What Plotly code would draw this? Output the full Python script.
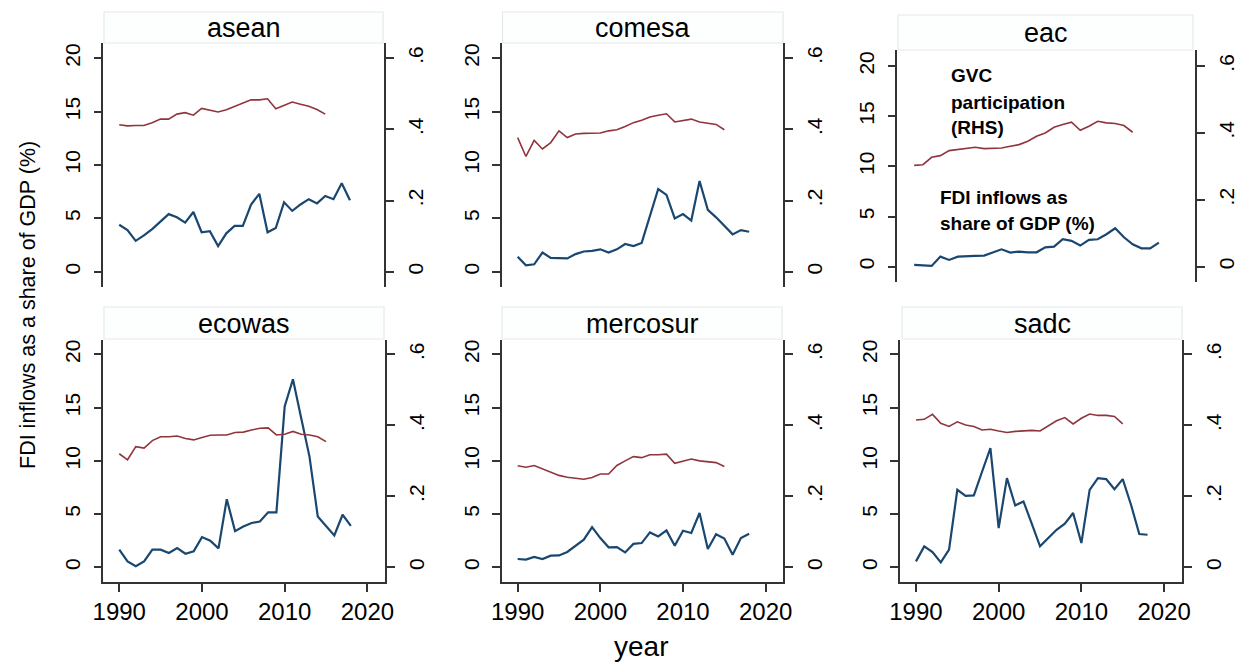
import plotly.graph_objects as go

# ---------------- data ----------------
years_fdi = list(range(1990, 2019))
years_gvc = list(range(1990, 2016))

regions = ["asean", "comesa", "eac", "ecowas", "mercosur", "sadc"]

fdi_asean = [4.4, 3.9, 2.9, 3.4, 4.0, 4.7, 5.4, 5.1, 4.6, 5.6, 3.7, 3.8, 2.4, 3.6, 4.3,
             4.3, 6.3, 7.3, 3.7, 4.1, 6.5, 5.7, 6.3, 6.8, 6.4, 7.1, 6.8, 8.3, 6.7]
gvc_asean = [.413, .410, .411, .411, .419, .429, .429, .443, .447, .440, .459, .453, .449,
             .455, .465, .474, .483, .483, .486, .458, .468, .477, .471, .465, .456, .443]

fdi_comesa = [1.4, 0.6, 0.7, 1.8, 1.3, 1.3, 1.25, 1.65, 1.9, 1.95, 2.1, 1.8, 2.1, 2.6, 2.4,
              2.7, 5.2, 7.75, 7.2, 5.0, 5.4, 4.8, 8.5, 5.8, 5.1, 4.3, 3.5, 3.9, 3.75]
gvc_comesa = [.377, .324, .369, .345, .363, .396, .377, .387, .389, .389, .390, .396, .399,
              .408, .419, .426, .435, .440, .444, .421, .425, .429, .421, .417, .414, .399]

fdi_eac = [0.17, 0.1, 0.07, 1.0, 0.67, 1.0, 1.07, 1.07, 1.1, 1.43, 1.73, 1.4, 1.5, 1.43, 1.43,
           1.93, 2.0, 2.73, 2.57, 2.1, 2.67, 2.73, 3.23, 3.83, 2.93, 2.23, 1.83, 1.83, 2.4]
gvc_eac = [.303, .305, .327, .332, .347, .350, .353, .357, .353, .353, .355, .360, .365,
           .375, .390, .400, .417, .425, .432, .408, .420, .435, .430, .428, .422, .402]

fdi_ecowas = [1.66, 0.56, 0.1, 0.56, 1.66, 1.66, 1.34, 1.8, 1.28, 1.5, 2.84, 2.5, 1.78, 6.4, 3.4,
              3.84, 4.16, 4.3, 5.16, 5.16, 15.1, 17.66, 14.0, 10.4, 4.78, 3.9, 3.0, 4.94, 3.9]
gvc_ecowas = [.320, .303, .340, .336, .357, .368, .368, .370, .363, .359, .366, .372, .373,
              .373, .380, .381, .387, .392, .393, .373, .375, .383, .375, .373, .368, .354]

fdi_mercosur = [0.78, 0.72, 0.97, 0.78, 1.1, 1.12, 1.44, 2.03, 2.6, 3.78, 2.75, 1.88, 1.9, 1.4, 2.2,
                2.28, 3.28, 2.9, 3.47, 2.03, 3.44, 3.22, 5.1, 1.72, 3.1, 2.7, 1.19, 2.75, 3.16]
gvc_mercosur = [.286, .282, .287, .278, .270, .259, .254, .251, .248, .253, .263, .263, .287,
                .300, .312, .309, .317, .317, .319, .293, .298, .305, .300, .298, .295, .284]

fdi_sadc = [0.56, 1.97, 1.44, 0.47, 1.66, 7.28, 6.72, 6.75, 9.0, 11.19, 3.69, 8.38, 5.81, 6.19, 4.1,
            1.97, 2.75, 3.53, 4.1, 5.1, 2.28, 7.28, 8.38, 8.28, 7.34, 8.28, 5.88, 3.13, 3.06]
gvc_sadc = [.415, .417, .431, .406, .397, .410, .401, .397, .387, .389, .384, .380, .383,
            .384, .386, .384, .398, .413, .422, .404, .420, .432, .428, .428, .425, .404]

fdi_series = [fdi_asean, fdi_comesa, fdi_eac, fdi_ecowas, fdi_mercosur, fdi_sadc]
gvc_series = [gvc_asean, gvc_comesa, gvc_eac, gvc_ecowas, gvc_mercosur, gvc_sadc]

left_ticks = [0, 5, 10, 15, 20]
right_ticks = [0, 0.2, 0.4, 0.6]
right_tick_text = ["0", ".2", ".4", ".6"]
x_ticks = [1990, 2000, 2010, 2020]

y_title = "FDI inflows as a share of GDP (%)"
x_title = "year"
note_gvc = ["GVC", "participation", "(RHS)"]
note_fdi = ["FDI inflows as", "share of GDP (%)"]

# ---------------- layout geometry (pixels) ----------------
W, H = 1245, 664
def fx(px): return px / W
def fy(py): return 1 - py / H

# left, right, top, bottom of plot area; strip box (x0,x1,y0,y1); y-range; bottom row?
geom = [
    (103.3, 384.0, 43.3, 286.7, (104, 383, 12, 43), (-1.4, 21.4), False),
    (501.7, 783.3, 43.3, 286.7, (502.5, 783, 12, 43), (-1.4, 21.4), False),
    (897.3, 1195.0, 50.0, 281.7, (898, 1193, 15, 50), (-1.5, 21.6), False),
    (103.3, 385.0, 340.0, 581.7, (104, 384, 307, 339), (-1.35, 21.35), True),
    (501.7, 783.3, 340.0, 581.7, (502, 782, 307, 339), (-1.35, 21.35), True),
    (900.0, 1181.7, 340.0, 581.7, (902, 1182, 307, 339), (-1.35, 21.35), True),
]
XR = [1988.07, 2022.13]
SCALE = 20 / 0.6

FONT = "Liberation Sans, Arial, sans-serif"
AX = "#333333"
NAVY = "#1a476f"
MAROON = "#90353b"

fig = go.Figure()
layout = dict(
    width=W, height=H, margin=dict(l=0, r=0, t=0, b=0, pad=0, autoexpand=False),
    paper_bgcolor="white", plot_bgcolor="white", showlegend=False,
    font=dict(family=FONT, color="black"),
)
shapes, annotations = [], []

for i, reg in enumerate(regions):
    k = i + 1
    L, R, T, B, strip, yr, bottom = geom[i]
    xa, ya, yb = f"x{k}", f"y{2*k-1}", f"y{2*k}"
    xkey, yakey, ybkey = f"xaxis{k}", f"yaxis{2*k-1}", f"yaxis{2*k}"

    fig.add_trace(go.Scatter(x=years_gvc, y=gvc_series[i], mode="lines",
                             line=dict(color=MAROON, width=1.6), xaxis=xa, yaxis=yb,
                             name="GVC participation"))
    fig.add_trace(go.Scatter(x=years_fdi, y=fdi_series[i], mode="lines",
                             line=dict(color=NAVY, width=2.2), xaxis=xa, yaxis=ya,
                             name="FDI inflows"))

    layout[xkey] = dict(
        domain=[fx(L), fx(R)], anchor=ya, range=XR, showgrid=False, zeroline=False,
        automargin=False,
        tickvals=x_ticks if bottom else [], showticklabels=bottom,
        ticks="outside" if bottom else "", ticklen=8, tickwidth=1.5, tickcolor=AX,
        showline=bottom, linecolor=AX, linewidth=1.6, ticklabelstandoff=0,
        tickfont=dict(size=24, family=FONT, color="black"),
    )
    layout[yakey] = dict(
        domain=[fy(B), fy(T)], anchor=xa, range=list(yr), showgrid=False, zeroline=False,
        automargin=False,
        tickvals=left_ticks, ticks="outside", ticklen=8, tickwidth=1.5, tickcolor=AX,
        showline=True, linecolor=AX, linewidth=1.6, tickangle=-90,
        tickfont=dict(size=21, family=FONT, color="black"), ticklabelstandoff=5,
    )
    layout[ybkey] = dict(
        domain=[fy(B), fy(T)], anchor=xa, overlaying=ya, side="right",
        automargin=False,
        range=[yr[0] / SCALE, yr[1] / SCALE], showgrid=False, zeroline=False,
        tickvals=right_ticks, ticktext=right_tick_text, ticks="outside", ticklen=8,
        tickwidth=1.5, tickcolor=AX, showline=True, linecolor=AX, linewidth=1.6,
        tickangle=-90, tickfont=dict(size=21, family=FONT, color="black"),
        ticklabelstandoff=4,
    )

    sx0, sx1, sy0, sy1 = strip
    shapes.append(dict(type="rect", xref="paper", yref="paper",
                       x0=fx(sx0), x1=fx(sx1), y0=fy(sy1), y1=fy(sy0),
                       fillcolor="#fdfefe", line=dict(color="#e4eaec", width=1.2),
                       layer="below"))
    annotations.append(dict(text=reg, xref="paper", yref="paper",
                            x=fx((sx0 + sx1) / 2), y=fy((sy0 + sy1) / 2 + 1),
                            xanchor="center", yanchor="middle", showarrow=False,
                            font=dict(size=27, family=FONT, color="black")))

# eac annotations
for j, line in enumerate(note_gvc):
    annotations.append(dict(text=f"<b>{line}</b>", xref="paper", yref="paper",
                            x=fx(949), y=fy(76 + j * 26), xanchor="left", yanchor="middle",
                            showarrow=False, font=dict(size=19, family=FONT, color="black")))
for j, line in enumerate(note_fdi):
    annotations.append(dict(text=f"<b>{line}</b>", xref="paper", yref="paper",
                            x=fx(938), y=fy(198 + j * 26), xanchor="left", yanchor="middle",
                            showarrow=False, font=dict(size=19, family=FONT, color="black")))

# axis titles
annotations.append(dict(text=y_title, xref="paper", yref="paper", x=fx(28), y=fy(305),
                        xanchor="center", yanchor="middle", textangle=-90, showarrow=False,
                        font=dict(size=21.5, family=FONT, color="black")))
annotations.append(dict(text=x_title, xref="paper", yref="paper", x=fx(641), y=fy(646),
                        xanchor="center", yanchor="middle", showarrow=False,
                        font=dict(size=28, family=FONT, color="black")))

layout["shapes"] = shapes
layout["annotations"] = annotations
fig.update_layout(**layout)
fig.write_html("out.html", config={"displayModeBar": False},
               post_script="document.body.style.margin='0px';document.body.style.padding='0px';")
